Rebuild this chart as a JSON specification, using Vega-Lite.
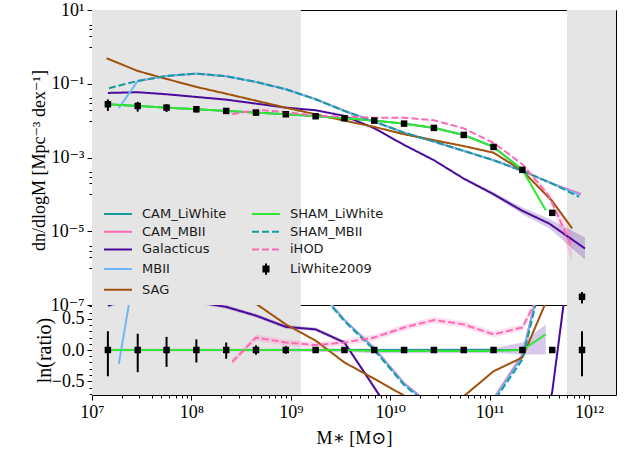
{
  "$schema": "https://vega.github.io/schema/vega-lite/v6.json",
  "padding": {"left": 29, "top": 0, "right": 0, "bottom": 0},
  "background": "white",
  "spacing": 0,
  "bounds": "flush",
  "resolve": {"legend": {"color": "independent"}},
  "config": {
    "view": {"stroke": "black", "strokeWidth": 1},
    "axis": {"labelFont": "Liberation Serif, DejaVu Serif", "labelFontSize": 18, "labelColor": "black", "tickColor": "black", "tickWidth": 1, "domain": false, "grid": false, "labelFlush": false, "labelOverlap": false, "labelBound": false, "titleFont": "Liberation Serif, DejaVu Serif", "titleFontWeight": "normal", "titleColor": "black"}
  },
  "datasets": {
    "gray": [{"a": 1e7, "b": 1.26e9}, {"a": 6.01e11, "b": 1.87e12}],
    "top": [
      {"s":"CAM_LiWhite","m":1.445e7,"n":0.0278},{"s":"CAM_LiWhite","m":2.884e7,"n":0.025},{"s":"CAM_LiWhite","m":5.623e7,"n":0.02249},{"s":"CAM_LiWhite","m":1.122e8,"n":0.02037},{"s":"CAM_LiWhite","m":2.239e8,"n":0.01832},{"s":"CAM_LiWhite","m":4.467e8,"n":0.01648},{"s":"CAM_LiWhite","m":8.913e8,"n":0.01489},{"s":"CAM_LiWhite","m":1.778e9,"n":0.01315},{"s":"CAM_LiWhite","m":3.467e9,"n":0.01161},{"s":"CAM_LiWhite","m":6.918e9,"n":0.01},{"s":"CAM_LiWhite","m":1.38e10,"n":0.008299},{"s":"CAM_LiWhite","m":2.754e10,"n":0.006339},{"s":"CAM_LiWhite","m":5.495e10,"n":0.004093},{"s":"CAM_LiWhite","m":1.096e11,"n":0.001936},{"s":"CAM_LiWhite","m":2.138e11,"n":0.0004613},
      {"s":"CAM_MBII","m":2.884e7,"n":0.1191},{"s":"CAM_MBII","m":5.623e7,"n":0.1626},{"s":"CAM_MBII","m":1.122e8,"n":0.1879},{"s":"CAM_MBII","m":2.239e8,"n":0.1596},{"s":"CAM_MBII","m":4.467e8,"n":0.1119},{"s":"CAM_MBII","m":8.913e8,"n":0.07096},{"s":"CAM_MBII","m":1.778e9,"n":0.03802},{"s":"CAM_MBII","m":3.467e9,"n":0.01832},{"s":"CAM_MBII","m":6.918e9,"n":0.009397},{"s":"CAM_MBII","m":1.38e10,"n":0.004732},{"s":"CAM_MBII","m":2.754e10,"n":0.002698},{"s":"CAM_MBII","m":5.495e10,"n":0.00151},{"s":"CAM_MBII","m":1.096e11,"n":0.0008453},{"s":"CAM_MBII","m":2.138e11,"n":0.0004335},{"s":"CAM_MBII","m":4.266e11,"n":0.0001963},{"s":"CAM_MBII","m":8.318e11,"n":0.0001023},
      {"s":"Galacticus","m":1.445e7,"n":0.05636},{"s":"Galacticus","m":2.884e7,"n":0.05888},{"s":"Galacticus","m":5.623e7,"n":0.05188},{"s":"Galacticus","m":1.122e8,"n":0.04385},{"s":"Galacticus","m":2.239e8,"n":0.03707},{"s":"Galacticus","m":4.467e8,"n":0.02891},{"s":"Galacticus","m":8.913e8,"n":0.02249},{"s":"Galacticus","m":1.778e9,"n":0.01914},{"s":"Galacticus","m":3.467e9,"n":0.0134},{"s":"Galacticus","m":6.918e9,"n":0.006223},{"s":"Galacticus","m":1.38e10,"n":0.002193},{"s":"Galacticus","m":2.754e10,"n":0.0008453},{"s":"Galacticus","m":5.495e10,"n":0.0002679},{"s":"Galacticus","m":1.096e11,"n":0.0001012},{"s":"Galacticus","m":2.138e11,"n":0.00003573},{"s":"Galacticus","m":3.981e11,"n":0.00001618},{"s":"Galacticus","m":9.12e11,"n":0.000003396},
      {"s":"MBII","m":1.862e7,"n":0.02188},{"s":"MBII","m":2.884e7,"n":0.1191},{"s":"MBII","m":5.623e7,"n":0.1626},{"s":"MBII","m":1.122e8,"n":0.1879},{"s":"MBII","m":2.239e8,"n":0.1596},{"s":"MBII","m":4.467e8,"n":0.1119},{"s":"MBII","m":8.913e8,"n":0.07096},{"s":"MBII","m":1.778e9,"n":0.03802},{"s":"MBII","m":3.467e9,"n":0.01832},{"s":"MBII","m":6.918e9,"n":0.009397},{"s":"MBII","m":1.38e10,"n":0.004732},{"s":"MBII","m":2.754e10,"n":0.002698},{"s":"MBII","m":5.495e10,"n":0.00151},{"s":"MBII","m":1.096e11,"n":0.0008453},{"s":"MBII","m":2.138e11,"n":0.0004335},{"s":"MBII","m":4.266e11,"n":0.0001963},{"s":"MBII","m":8.128e11,"n":0.0000955},
      {"s":"SAG","m":1.4e7,"n":0.4909},{"s":"SAG","m":2.884e7,"n":0.2223},{"s":"SAG","m":5.623e7,"n":0.1349},{"s":"SAG","m":1.122e8,"n":0.08185},{"s":"SAG","m":2.239e8,"n":0.0537},{"s":"SAG","m":4.467e8,"n":0.03467},{"s":"SAG","m":8.913e8,"n":0.02249},{"s":"SAG","m":1.778e9,"n":0.01479},{"s":"SAG","m":3.467e9,"n":0.01},{"s":"SAG","m":6.918e9,"n":0.006761},{"s":"SAG","m":1.38e10,"n":0.004266},{"s":"SAG","m":2.754e10,"n":0.002951},{"s":"SAG","m":5.495e10,"n":0.002042},{"s":"SAG","m":1.096e11,"n":0.001349},{"s":"SAG","m":2.138e11,"n":0.0004365},{"s":"SAG","m":4.266e11,"n":0.00006607},{"s":"SAG","m":6.761e11,"n":0.00001202},
      {"s":"SHAM_LiWhite","m":1.445e7,"n":0.0278},{"s":"SHAM_LiWhite","m":2.884e7,"n":0.025},{"s":"SHAM_LiWhite","m":5.623e7,"n":0.02249},{"s":"SHAM_LiWhite","m":1.122e8,"n":0.02037},{"s":"SHAM_LiWhite","m":2.239e8,"n":0.01832},{"s":"SHAM_LiWhite","m":4.467e8,"n":0.01648},{"s":"SHAM_LiWhite","m":8.913e8,"n":0.01489},{"s":"SHAM_LiWhite","m":1.778e9,"n":0.01315},{"s":"SHAM_LiWhite","m":3.467e9,"n":0.01161},{"s":"SHAM_LiWhite","m":6.918e9,"n":0.01},{"s":"SHAM_LiWhite","m":1.38e10,"n":0.008299},{"s":"SHAM_LiWhite","m":2.754e10,"n":0.006339},{"s":"SHAM_LiWhite","m":5.495e10,"n":0.004093},{"s":"SHAM_LiWhite","m":1.096e11,"n":0.001936},{"s":"SHAM_LiWhite","m":2.138e11,"n":0.0004613},{"s":"SHAM_LiWhite","m":3.673e11,"n":0.00003715},
      {"s":"SHAM_MBII","m":1.479e7,"n":0.07551},{"s":"SHAM_MBII","m":2.884e7,"n":0.1191},{"s":"SHAM_MBII","m":5.623e7,"n":0.1626},{"s":"SHAM_MBII","m":1.122e8,"n":0.1879},{"s":"SHAM_MBII","m":2.239e8,"n":0.1596},{"s":"SHAM_MBII","m":4.467e8,"n":0.1119},{"s":"SHAM_MBII","m":8.913e8,"n":0.07096},{"s":"SHAM_MBII","m":1.778e9,"n":0.03802},{"s":"SHAM_MBII","m":3.467e9,"n":0.01832},{"s":"SHAM_MBII","m":6.918e9,"n":0.009397},{"s":"SHAM_MBII","m":1.38e10,"n":0.004732},{"s":"SHAM_MBII","m":2.754e10,"n":0.002698},{"s":"SHAM_MBII","m":5.495e10,"n":0.00151},{"s":"SHAM_MBII","m":1.096e11,"n":0.0008453},{"s":"SHAM_MBII","m":2.138e11,"n":0.0004335},{"s":"SHAM_MBII","m":4.266e11,"n":0.0001963},{"s":"SHAM_MBII","m":7.943e11,"n":0.00008551},
      {"s":"iHOD","m":2.57e8,"n":0.01489},{"s":"iHOD","m":4.467e8,"n":0.0195},{"s":"iHOD","m":8.913e8,"n":0.01722},{"s":"iHOD","m":1.778e9,"n":0.0134},{"s":"iHOD","m":3.467e9,"n":0.01288},{"s":"iHOD","m":6.918e9,"n":0.01202},{"s":"iHOD","m":1.38e10,"n":0.01202},{"s":"iHOD","m":2.754e10,"n":0.01023},{"s":"iHOD","m":5.495e10,"n":0.006166},{"s":"iHOD","m":1.096e11,"n":0.002483},{"s":"iHOD","m":2.138e11,"n":0.0006607},{"s":"iHOD","m":3.981e11,"n":0.00008913},{"s":"iHOD","m":6.761e11,"n":0.000003631}
    ],
    "topband": [
      {"s":"Galacticus","m":5.495e10,"lo":0.00025,"hi":0.0002872},{"s":"Galacticus","m":1.096e11,"lo":0.0000902,"hi":0.0001136},{"s":"Galacticus","m":2.138e11,"lo":0.00002905,"hi":0.00004396},{"s":"Galacticus","m":3.981e11,"lo":0.00001199,"hi":0.00002183},{"s":"Galacticus","m":9.12e11,"lo":0.000001702,"hi":0.000006775},
      {"s":"iHOD","m":2.138e11,"lo":0.000616,"hi":0.000708},{"s":"iHOD","m":3.981e11,"lo":0.0000708,"hi":0.0001122},{"s":"iHOD","m":6.761e11,"lo":0.000001445,"hi":0.00000912}
    ],
    "pts": [
      {"m":1.445e7,"n":0.0278,"lo":0.01838,"hi":0.0375,"r":0,"rlo":-0.42,"rhi":0.3},
      {"m":2.884e7,"n":0.025,"lo":0.01754,"hi":0.03243,"r":0,"rlo":-0.355,"rhi":0.26},
      {"m":5.623e7,"n":0.02249,"lo":0.01718,"hi":0.02773,"r":0,"rlo":-0.27,"rhi":0.21},
      {"m":1.122e8,"n":0.02037,"lo":0.01667,"hi":0.02416,"r":0,"rlo":-0.2,"rhi":0.17},
      {"m":2.239e8,"n":0.01832,"lo":0.01592,"hi":0.02065,"r":0,"rlo":-0.14,"rhi":0.12},
      {"m":4.467e8,"n":0.01648,"lo":0.01527,"hi":0.01778,"r":0,"rlo":-0.075,"rhi":0.075},
      {"m":8.913e8,"n":0.01489,"lo":0.01402,"hi":0.01581,"r":0,"rlo":-0.06,"rhi":0.06},
      {"m":1.778e9,"n":0.01315,"lo":0.01256,"hi":0.01377,"r":0,"rlo":-0.045,"rhi":0.045},
      {"m":3.467e9,"n":0.01161,"lo":0.01116,"hi":0.01207,"r":0,"rlo":-0.04,"rhi":0.04},
      {"m":6.918e9,"n":0.01,"lo":0.00979,"hi":0.01021,"r":0,"rlo":-0.02,"rhi":0.02},
      {"m":1.38e10,"n":0.008299,"lo":0.008128,"hi":0.008473,"r":0,"rlo":-0.02,"rhi":0.02},
      {"m":2.754e10,"n":0.006339,"lo":0.006208,"hi":0.006472,"r":0,"rlo":-0.02,"rhi":0.02},
      {"m":5.495e10,"n":0.004093,"lo":0.004009,"hi":0.004179,"r":0,"rlo":-0.02,"rhi":0.02},
      {"m":1.096e11,"n":0.001936,"lo":0.001896,"hi":0.001977,"r":0,"rlo":-0.02,"rhi":0.02},
      {"m":2.138e11,"n":0.0004613,"lo":0.0004518,"hi":0.000471,"r":0,"rlo":-0.02,"rhi":0.02},
      {"m":4.266e11,"n":0.00003155,"lo":0.0000303,"hi":0.0000328,"r":0,"rlo":-0.04,"rhi":0.04},
      {"m":8.511e11,"n":1.667e-7,"lo":1.102e-7,"hi":2.249e-7,"r":0,"rlo":-0.42,"rhi":0.3}
    ],
    "bot": [
      {"s":"CAM_LiWhite","m":1.445e7,"r":0},{"s":"CAM_LiWhite","m":2.884e7,"r":0},{"s":"CAM_LiWhite","m":5.623e7,"r":0},{"s":"CAM_LiWhite","m":1.122e8,"r":0},{"s":"CAM_LiWhite","m":2.239e8,"r":0},{"s":"CAM_LiWhite","m":4.467e8,"r":0},{"s":"CAM_LiWhite","m":8.913e8,"r":0},{"s":"CAM_LiWhite","m":1.778e9,"r":0},{"s":"CAM_LiWhite","m":3.467e9,"r":0},{"s":"CAM_LiWhite","m":6.918e9,"r":0},{"s":"CAM_LiWhite","m":1.38e10,"r":0},{"s":"CAM_LiWhite","m":2.754e10,"r":0},{"s":"CAM_LiWhite","m":5.495e10,"r":0},{"s":"CAM_LiWhite","m":1.096e11,"r":0},{"s":"CAM_LiWhite","m":2.138e11,"r":0},
      {"s":"CAM_MBII","m":2.884e7,"r":1.56},{"s":"CAM_MBII","m":5.623e7,"r":2.0},{"s":"CAM_MBII","m":1.122e8,"r":2.2},{"s":"CAM_MBII","m":2.239e8,"r":2.17},{"s":"CAM_MBII","m":4.467e8,"r":1.91},{"s":"CAM_MBII","m":8.913e8,"r":1.56},{"s":"CAM_MBII","m":1.778e9,"r":1.02},{"s":"CAM_MBII","m":3.467e9,"r":0.48},{"s":"CAM_MBII","m":6.918e9,"r":0.03},{"s":"CAM_MBII","m":1.38e10,"r":-0.53},{"s":"CAM_MBII","m":2.754e10,"r":-0.92},{"s":"CAM_MBII","m":5.495e10,"r":-1.0},{"s":"CAM_MBII","m":1.096e11,"r":-0.78},{"s":"CAM_MBII","m":2.138e11,"r":-0.07},{"s":"CAM_MBII","m":4.266e11,"r":1.9},{"s":"CAM_MBII","m":8.511e11,"r":6.0},
      {"s":"Galacticus","m":1.445e7,"r":0.71},{"s":"Galacticus","m":2.884e7,"r":0.86},{"s":"Galacticus","m":5.623e7,"r":0.84},{"s":"Galacticus","m":1.122e8,"r":0.77},{"s":"Galacticus","m":2.239e8,"r":0.69},{"s":"Galacticus","m":4.467e8,"r":0.55},{"s":"Galacticus","m":8.913e8,"r":0.37},{"s":"Galacticus","m":1.778e9,"r":0.33},{"s":"Galacticus","m":3.467e9,"r":0.12},{"s":"Galacticus","m":6.918e9,"r":-0.6},{"s":"Galacticus","m":1.38e10,"r":-1.33},{"s":"Galacticus","m":2.754e10,"r":-2.0},{"s":"Galacticus","m":5.495e10,"r":-2.72},{"s":"Galacticus","m":1.096e11,"r":-2.95},{"s":"Galacticus","m":2.138e11,"r":-2.56},{"s":"Galacticus","m":4.266e11,"r":-0.67},{"s":"Galacticus","m":8.511e11,"r":3.0},
      {"s":"MBII","m":1.862e7,"r":-0.22},{"s":"MBII","m":2.884e7,"r":1.56},{"s":"MBII","m":5.623e7,"r":2.0},{"s":"MBII","m":1.122e8,"r":2.2},{"s":"MBII","m":2.239e8,"r":2.17},{"s":"MBII","m":4.467e8,"r":1.91},{"s":"MBII","m":8.913e8,"r":1.56},{"s":"MBII","m":1.778e9,"r":1.02},{"s":"MBII","m":3.467e9,"r":0.48},{"s":"MBII","m":6.918e9,"r":0.02},{"s":"MBII","m":1.38e10,"r":-0.54},{"s":"MBII","m":2.754e10,"r":-0.93},{"s":"MBII","m":5.495e10,"r":-1.0},{"s":"MBII","m":1.096e11,"r":-0.8},{"s":"MBII","m":2.138e11,"r":-0.1},{"s":"MBII","m":4.266e11,"r":1.9},{"s":"MBII","m":8.511e11,"r":6.0},
      {"s":"SAG","m":1.445e7,"r":2.87},{"s":"SAG","m":2.884e7,"r":2.18},{"s":"SAG","m":5.623e7,"r":1.79},{"s":"SAG","m":1.122e8,"r":1.39},{"s":"SAG","m":2.239e8,"r":1.07},{"s":"SAG","m":4.467e8,"r":0.74},{"s":"SAG","m":8.913e8,"r":0.41},{"s":"SAG","m":1.778e9,"r":0.15},{"s":"SAG","m":3.467e9,"r":-0.2},{"s":"SAG","m":6.918e9,"r":-0.46},{"s":"SAG","m":1.38e10,"r":-0.73},{"s":"SAG","m":2.754e10,"r":-0.85},{"s":"SAG","m":5.495e10,"r":-0.74},{"s":"SAG","m":1.096e11,"r":-0.34},{"s":"SAG","m":2.138e11,"r":-0.12},{"s":"SAG","m":4.266e11,"r":1.0},
      {"s":"SHAM_LiWhite","m":1.445e7,"r":0},{"s":"SHAM_LiWhite","m":2.884e7,"r":0},{"s":"SHAM_LiWhite","m":5.623e7,"r":0},{"s":"SHAM_LiWhite","m":1.122e8,"r":0},{"s":"SHAM_LiWhite","m":2.239e8,"r":0},{"s":"SHAM_LiWhite","m":4.467e8,"r":0},{"s":"SHAM_LiWhite","m":8.913e8,"r":0},{"s":"SHAM_LiWhite","m":1.778e9,"r":0},{"s":"SHAM_LiWhite","m":3.467e9,"r":0},{"s":"SHAM_LiWhite","m":6.918e9,"r":-0.015},{"s":"SHAM_LiWhite","m":1.38e10,"r":-0.015},{"s":"SHAM_LiWhite","m":2.754e10,"r":-0.015},{"s":"SHAM_LiWhite","m":5.495e10,"r":-0.015},{"s":"SHAM_LiWhite","m":1.096e11,"r":-0.015},{"s":"SHAM_LiWhite","m":2.138e11,"r":0},{"s":"SHAM_LiWhite","m":3.673e11,"r":0.25},
      {"s":"SHAM_MBII","m":1.479e7,"r":1.0},{"s":"SHAM_MBII","m":2.884e7,"r":1.56},{"s":"SHAM_MBII","m":5.623e7,"r":1.98},{"s":"SHAM_MBII","m":1.122e8,"r":2.2},{"s":"SHAM_MBII","m":2.239e8,"r":2.17},{"s":"SHAM_MBII","m":4.467e8,"r":1.91},{"s":"SHAM_MBII","m":8.913e8,"r":1.56},{"s":"SHAM_MBII","m":1.778e9,"r":1.0},{"s":"SHAM_MBII","m":3.467e9,"r":0.46},{"s":"SHAM_MBII","m":6.918e9,"r":0.0},{"s":"SHAM_MBII","m":1.38e10,"r":-0.56},{"s":"SHAM_MBII","m":2.754e10,"r":-0.95},{"s":"SHAM_MBII","m":5.495e10,"r":-1.0},{"s":"SHAM_MBII","m":1.096e11,"r":-0.83},{"s":"SHAM_MBII","m":2.138e11,"r":-0.15},{"s":"SHAM_MBII","m":4.266e11,"r":1.83},{"s":"SHAM_MBII","m":8.511e11,"r":6.0},
      {"s":"iHOD","m":2.57e8,"r":-0.19},{"s":"iHOD","m":4.467e8,"r":0.2},{"s":"iHOD","m":8.913e8,"r":0.12},{"s":"iHOD","m":1.778e9,"r":0.08},{"s":"iHOD","m":3.467e9,"r":0.12},{"s":"iHOD","m":6.918e9,"r":0.2},{"s":"iHOD","m":1.38e10,"r":0.36},{"s":"iHOD","m":2.754e10,"r":0.48},{"s":"iHOD","m":5.495e10,"r":0.41},{"s":"iHOD","m":1.096e11,"r":0.25},{"s":"iHOD","m":2.138e11,"r":0.36},{"s":"iHOD","m":4.266e11,"r":1.3}
    ],
    "botband": [
      {"s":"Galacticus","m":1.445e7,"lo":0.68,"hi":0.74},{"s":"Galacticus","m":2.884e7,"lo":0.83,"hi":0.89},{"s":"Galacticus","m":5.623e7,"lo":0.81,"hi":0.87},{"s":"Galacticus","m":1.122e8,"lo":0.74,"hi":0.8},{"s":"Galacticus","m":2.239e8,"lo":0.66,"hi":0.72},{"s":"Galacticus","m":4.467e8,"lo":0.52,"hi":0.58},{"s":"Galacticus","m":8.913e8,"lo":0.34,"hi":0.4},{"s":"Galacticus","m":1.778e9,"lo":0.3,"hi":0.36},{"s":"Galacticus","m":3.467e9,"lo":0.09,"hi":0.15},{"s":"Galacticus","m":6.918e9,"lo":-0.63,"hi":-0.57},{"s":"Galacticus","m":1.38e10,"lo":-1.36,"hi":-1.3},{"s":"Galacticus","m":2.138e11,"lo":-2.6,"hi":-2.52},{"s":"Galacticus","m":4.266e11,"lo":-0.72,"hi":-0.62},{"s":"Galacticus","m":8.511e11,"lo":2.8,"hi":3.2},
      {"s":"iHOD","m":2.57e8,"lo":-0.24,"hi":-0.14},{"s":"iHOD","m":4.467e8,"lo":0.15,"hi":0.25},{"s":"iHOD","m":8.913e8,"lo":0.07,"hi":0.17},{"s":"iHOD","m":1.778e9,"lo":0.03,"hi":0.13},{"s":"iHOD","m":3.467e9,"lo":0.07,"hi":0.17},{"s":"iHOD","m":6.918e9,"lo":0.15,"hi":0.25},{"s":"iHOD","m":1.38e10,"lo":0.31,"hi":0.41},{"s":"iHOD","m":2.754e10,"lo":0.43,"hi":0.53},{"s":"iHOD","m":5.495e10,"lo":0.36,"hi":0.46},{"s":"iHOD","m":1.096e11,"lo":0.2,"hi":0.3},{"s":"iHOD","m":2.138e11,"lo":0.31,"hi":0.41},{"s":"iHOD","m":4.266e11,"lo":1.2,"hi":1.4},
      {"s":"SHAM_LiWhite","m":1.445e7,"lo":-0.02,"hi":0.02},{"s":"SHAM_LiWhite","m":8.913e8,"lo":-0.02,"hi":0.02},{"s":"SHAM_LiWhite","m":1.778e9,"lo":-0.03,"hi":0.03},{"s":"SHAM_LiWhite","m":3.467e9,"lo":-0.03,"hi":0.03},{"s":"SHAM_LiWhite","m":6.918e9,"lo":-0.05,"hi":0.02},{"s":"SHAM_LiWhite","m":1.096e11,"lo":-0.05,"hi":0.03},{"s":"SHAM_LiWhite","m":2.138e11,"lo":-0.07,"hi":0.12},{"s":"SHAM_LiWhite","m":3.673e11,"lo":-0.07,"hi":0.41}
    ]
  },
  "vconcat": [
    {
      "width": 524,
      "height": 295,
      "resolve": {"axis": {"x": "independent", "y": "independent"}},
      "layer": [
        {
          "data": {"name": "gray"},
          "mark": {"type": "rect", "color": "#e5e5e5", "clip": true},
          "encoding": {
            "x": {"field": "a", "type": "quantitative", "scale": {"type": "log", "domain": [1e7, 1.87e12], "nice": false}, "axis": null},
            "x2": {"field": "b"}
          }
        },
        {
          "data": {"name": "topband"},
          "mark": {"type": "area", "fillOpacity": 0.22, "clip": true},
          "encoding": {
            "x": {"field": "m", "type": "quantitative", "scale": {"type": "log", "domain": [1e7, 1.87e12], "nice": false}, "axis": null},
            "y": {"field": "lo", "type": "quantitative", "scale": {"type": "log", "domain": [1e-7, 10], "nice": false},
                  "axis": {"orient": "left", "values": [1, 2, 3, 4, 0.01, 0.02, 0.03, 0.04, 0.0001, 0.0002, 0.0003, 0.0004, 0.000001, 0.000002, 0.000003, 0.000004], "labels": false, "tickSize": 3, "title": null}},
            "y2": {"field": "hi"},
            "fill": {"field": "s", "type": "nominal", "legend": null, "scale": {"domain": ["Galacticus", "iHOD"], "range": ["#4b0b9a", "#ff69b4"]}}
          }
        },
        {
          "data": {"name": "top"},
          "mark": {"type": "line", "strokeWidth": 2, "clip": true},
          "encoding": {
            "x": {"field": "m", "type": "quantitative", "scale": {"type": "log", "domain": [1e7, 1.87e12], "nice": false}, "axis": null},
            "y": {"field": "n", "type": "quantitative", "scale": {"type": "log", "domain": [1e-7, 10], "nice": false},
                  "axis": {"orient": "left", "values": [10, 0.1, 0.001, 0.00001, 1e-7], "labelExpr": "datum.value > 1 ? '10¹' : datum.value > 0.01 ? '10⁻¹' : datum.value > 0.0001 ? '10⁻³' : datum.value > 0.000001 ? '10⁻⁵' : '10⁻⁷'", "tickSize": 5, "labelPadding": 3, "title": "dn/dlogM [Mpc⁻³ dex⁻¹]", "titleFontSize": 18, "titleX": -53, "titleY": 150, "titleAngle": -90, "titleAlign": "center", "titleBaseline": "middle"}},
            "color": {"field": "s", "type": "nominal",
                      "scale": {"domain": ["CAM_LiWhite", "CAM_MBII", "Galacticus", "MBII", "SAG", "SHAM_LiWhite", "SHAM_MBII", "iHOD", "LiWhite2009"], "range": ["#199a9a", "#ff69b4", "#4b0b9a", "#6fb7f7", "#a0520c", "#33e633", "#199a9a", "#ff69b4", "#000000"]},
                      "legend": {"orient": "none", "legendX": 18, "legendY": 196, "columns": 2, "title": null, "labelFont": "DejaVu Sans", "labelFontSize": 13, "labelColor": "#1a1a1a", "symbolSize": 196, "symbolStrokeWidth": 2, "labelOffset": 16, "columnPadding": 21, "rowPadding": 2.7, "padding": 0,
                                 "encode": {"symbols": {"update": {
                                   "shape": {"signal": "datum.value === 'LiWhite2009' ? 'M0,-0.8L0,0.8M-0.36,-0.36L0.36,-0.36L0.36,0.36L-0.36,0.36Z' : 'M-2,0L2,0'"},
                                   "strokeDash": {"signal": "datum.value === 'SHAM_MBII' || datum.value === 'iHOD' ? [7,3] : [1,0]"},
                                   "fill": {"signal": "datum.value === 'LiWhite2009' ? 'black' : 'transparent'"},
                                   "opacity": {"value": 1},
                                   "strokeWidth": {"value": 2}
                                 }}}}},
            "strokeDash": {"field": "s", "type": "nominal", "legend": null,
                           "scale": {"domain": ["CAM_LiWhite", "CAM_MBII", "Galacticus", "MBII", "SAG", "SHAM_LiWhite", "SHAM_MBII", "iHOD", "LiWhite2009"], "range": [[1, 0], [1, 0], [1, 0], [1, 0], [1, 0], [1, 0], [7, 3], [7, 3], [1, 0]]}}
          }
        },
        {
          "data": {"name": "pts"},
          "mark": {"type": "rule", "color": "black", "strokeWidth": 2, "clip": true},
          "encoding": {
            "x": {"field": "m", "type": "quantitative", "axis": null},
            "y": {"field": "lo", "type": "quantitative", "axis": null},
            "y2": {"field": "hi"}
          }
        },
        {
          "data": {"name": "pts"},
          "mark": {"type": "point", "shape": "square", "filled": true, "size": 42, "color": "black", "opacity": 1, "clip": true},
          "encoding": {
            "x": {"field": "m", "type": "quantitative", "axis": null},
            "y": {"field": "n", "type": "quantitative", "axis": null}
          }
        }
      ]
    },
    {
      "width": 524,
      "height": 90,
      "resolve": {"axis": {"x": "independent", "y": "independent"}},
      "layer": [
        {
          "data": {"name": "gray"},
          "mark": {"type": "rect", "color": "#e5e5e5", "clip": true},
          "encoding": {
            "x": {"field": "a", "type": "quantitative", "scale": {"type": "log", "domain": [1e7, 1.87e12], "nice": false},
                  "axis": {"orient": "bottom", "values": [1e7, 1e8, 1e9, 1e10, 1e11, 1e12], "labelExpr": "datum.value < 3e7 ? '10⁷' : datum.value < 3e8 ? '10⁸' : datum.value < 3e9 ? '10⁹' : datum.value < 3e10 ? '10¹⁰' : datum.value < 3e11 ? '10¹¹' : '10¹²'", "tickSize": 5, "labelPadding": 3, "title": "M∗ [M⊙]", "titleFontSize": 18, "titleX": 262, "titleY": 43, "titleAlign": "center", "titleBaseline": "middle"}},
            "x2": {"field": "b"}
          }
        },
        {
          "data": {"name": "botband"},
          "mark": {"type": "area", "fillOpacity": 0.22, "clip": true},
          "encoding": {
            "x": {"field": "m", "type": "quantitative", "scale": {"type": "log", "domain": [1e7, 1.87e12], "nice": false},
                  "axis": {"orient": "bottom", "values": [2e7, 3e7, 4e7, 5e7, 6e7, 7e7, 8e7, 9e7, 2e8, 3e8, 4e8, 5e8, 6e8, 7e8, 8e8, 9e8, 2e9, 3e9, 4e9, 5e9, 6e9, 7e9, 8e9, 9e9, 2e10, 3e10, 4e10, 5e10, 6e10, 7e10, 8e10, 9e10, 2e11, 3e11, 4e11, 5e11, 6e11, 7e11, 8e11, 9e11], "labels": false, "tickSize": 3, "title": null}},
            "y": {"field": "lo", "type": "quantitative", "scale": {"domain": [-0.72, 0.72], "nice": false, "zero": false},
                  "axis": {"orient": "left", "values": [-0.7, -0.6, -0.4, -0.3, -0.2, -0.1, 0.1, 0.2, 0.3, 0.4, 0.6, 0.7], "labels": false, "tickSize": 3, "title": null}},
            "y2": {"field": "hi"},
            "fill": {"field": "s", "type": "nominal", "legend": null, "scale": {"domain": ["Galacticus", "iHOD", "SHAM_LiWhite"], "range": ["#4b0b9a", "#ff69b4", "#33c833"]}}
          }
        },
        {
          "data": {"name": "bot"},
          "mark": {"type": "line", "strokeWidth": 2, "clip": true},
          "encoding": {
            "x": {"field": "m", "type": "quantitative", "axis": null},
            "y": {"field": "r", "type": "quantitative",
                  "axis": {"orient": "left", "values": [-0.5, 0, 0.5], "labelExpr": "datum.value == 0 ? '0.0' : datum.value > 0 ? '0.5' : '−0.5'", "tickSize": 5, "labelPadding": 3, "title": "ln(ratio)", "titleFontSize": 20, "titleX": -48, "titleY": 45, "titleAngle": -90, "titleAlign": "center", "titleBaseline": "middle"}},
            "color": {"field": "s", "type": "nominal", "legend": null,
                      "scale": {"domain": ["CAM_LiWhite", "CAM_MBII", "Galacticus", "MBII", "SAG", "SHAM_LiWhite", "SHAM_MBII", "iHOD", "LiWhite2009"], "range": ["#199a9a", "#ff69b4", "#4b0b9a", "#6fb7f7", "#a0520c", "#33e633", "#199a9a", "#ff69b4", "#000000"]}},
            "strokeDash": {"field": "s", "type": "nominal", "legend": null,
                           "scale": {"domain": ["CAM_LiWhite", "CAM_MBII", "Galacticus", "MBII", "SAG", "SHAM_LiWhite", "SHAM_MBII", "iHOD", "LiWhite2009"], "range": [[1, 0], [1, 0], [1, 0], [1, 0], [1, 0], [1, 0], [7, 3], [7, 3], [1, 0]]}}
          }
        },
        {
          "mark": {"type": "rule", "color": "#333333", "strokeWidth": 1},
          "encoding": {"y": {"datum": 0, "type": "quantitative", "axis": null}}
        },
        {
          "data": {"name": "pts"},
          "mark": {"type": "rule", "color": "black", "strokeWidth": 2, "clip": true},
          "encoding": {
            "x": {"field": "m", "type": "quantitative", "axis": null},
            "y": {"field": "rlo", "type": "quantitative", "axis": null},
            "y2": {"field": "rhi"}
          }
        },
        {
          "data": {"name": "pts"},
          "mark": {"type": "point", "shape": "square", "filled": true, "size": 42, "color": "black", "opacity": 1, "clip": true},
          "encoding": {
            "x": {"field": "m", "type": "quantitative", "axis": null},
            "y": {"field": "r", "type": "quantitative", "axis": null}
          }
        }
      ]
    }
  ]
}
